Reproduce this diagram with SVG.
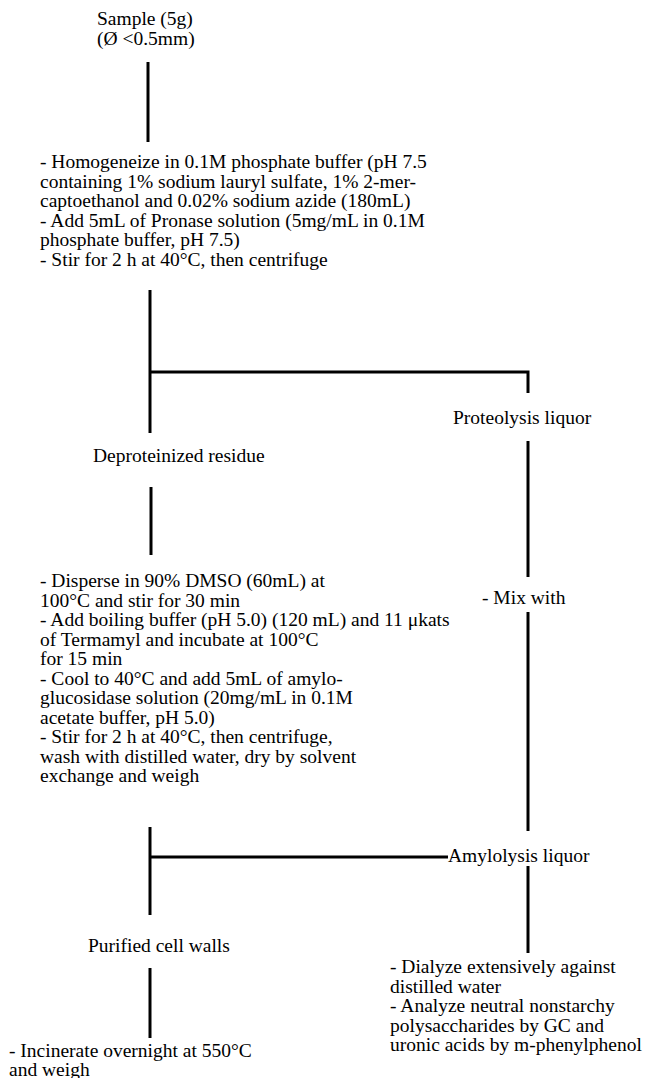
<svg xmlns="http://www.w3.org/2000/svg" width="648" height="1078" viewBox="0 0 648 1078">
<style>
  text { font-family: "Liberation Serif", "Times New Roman", serif; font-size: 19.5px; fill: #000; }
  .ln { stroke: #000; stroke-width: 3; fill: none; stroke-linecap: butt; }
</style>
<rect width="648" height="1078" fill="#fff"/>
<g id="connectors">
  <line class="ln" x1="148" y1="62" x2="148" y2="142"/>
  <line class="ln" x1="150" y1="290" x2="150" y2="433"/>
  <polyline class="ln" points="150,372 528,372 528,393"/>
  <line class="ln" x1="151" y1="487" x2="151" y2="555"/>
  <line class="ln" x1="528" y1="441" x2="528" y2="577"/>
  <line class="ln" x1="528" y1="612" x2="528" y2="831"/>
  <line class="ln" x1="150" y1="827" x2="150" y2="915"/>
  <line class="ln" x1="150" y1="857" x2="448" y2="857"/>
  <line class="ln" x1="528" y1="866" x2="528" y2="953"/>
  <line class="ln" x1="150" y1="968" x2="150" y2="1038"/>
</g>
<g id="sample">
  <text x="97" y="25">Sample (5g)</text>
  <text x="97" y="45">(Ø &lt;0.5mm)</text>
</g>
<g id="proteolysis-step">
  <text x="40" y="168">- Homogeneize in 0.1M phosphate buffer (pH 7.5</text>
  <text x="40" y="187.5">containing 1% sodium lauryl sulfate, 1% 2-mer-</text>
  <text x="40" y="207">captoethanol and 0.02% sodium azide (180mL)</text>
  <text x="40" y="226.5">- Add 5mL of Pronase solution (5mg/mL in 0.1M</text>
  <text x="40" y="246">phosphate buffer, pH 7.5)</text>
  <text x="40" y="265.5">- Stir for 2 h at 40°C, then centrifuge</text>
</g>
<g id="proteolysis-liquor">
  <text x="453" y="424">Proteolysis liquor</text>
</g>
<g id="deproteinized-residue">
  <text x="93" y="462">Deproteinized residue</text>
</g>
<g id="amylolysis-step">
  <text x="40" y="587">- Disperse in 90% DMSO (60mL) at</text>
  <text x="40" y="606.5">100°C and stir for 30 min</text>
  <text x="40" y="626">- Add boiling buffer (pH 5.0) (120 mL) and 11 μkats</text>
  <text x="40" y="645.5">of Termamyl and incubate at 100°C</text>
  <text x="40" y="665">for 15 min</text>
  <text x="40" y="684.5">- Cool to 40°C and add 5mL of amylo-</text>
  <text x="40" y="704">glucosidase solution (20mg/mL in 0.1M</text>
  <text x="40" y="723.5">acetate buffer, pH 5.0)</text>
  <text x="40" y="743">- Stir for 2 h at 40°C, then centrifuge,</text>
  <text x="40" y="762.5">wash with distilled water, dry by solvent</text>
  <text x="40" y="782">exchange and weigh</text>
</g>
<g id="mix-with">
  <text x="482" y="604">- Mix with</text>
</g>
<g id="amylolysis-liquor">
  <text x="448" y="862">Amylolysis liquor</text>
</g>
<g id="purified-cell-walls">
  <text x="88" y="952">Purified cell walls</text>
</g>
<g id="incinerate">
  <text x="9" y="1057">- Incinerate overnight at 550°C</text>
  <text x="9" y="1076">and weigh</text>
</g>
<g id="analysis">
  <text x="390" y="973">- Dialyze extensively against</text>
  <text x="390" y="992.5">distilled water</text>
  <text x="390" y="1012">- Analyze neutral nonstarchy</text>
  <text x="390" y="1031.5">polysaccharides by GC and</text>
  <text x="390" y="1051">uronic acids by m-phenylphenol</text>
</g>
</svg>
